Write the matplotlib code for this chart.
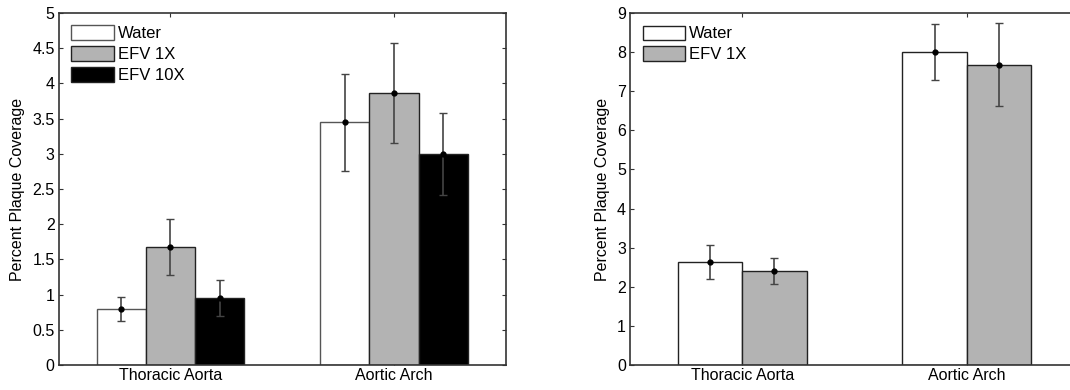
import numpy as np
import matplotlib
matplotlib.use("Agg")
import matplotlib.pyplot as plt

plt.rcParams['font.family'] = ['Liberation Sans', 'DejaVu Sans']

# data
sites = ["Thoracic Aorta", "Aortic Arch"]

# left panel: three groups
water_mean_a = [0.80, 3.45]
water_err_a = [0.17, 0.69]
efv1_mean_a = [1.68, 3.87]
efv1_err_a = [0.40, 0.71]
efv10_mean_a = [0.95, 3.00]
efv10_err_a = [0.26, 0.58]

# right panel: two groups
water_mean_b = [2.63, 8.00]
water_err_b = [0.43, 0.71]
efv1_mean_b = [2.41, 7.68]
efv1_err_b = [0.33, 1.06]

labels = ["Water", "EFV 1X", "EFV 10X"]
fills = ["white", "#b3b3b3", "black"]
edges = ["#555555", "#222222", "#222222"]
SPINE = "#333333"


def bar_panel(ax, means, errs, width, ymax, yticks, ticklabels, edge_list):
    n = len(means)
    x = np.arange(1, len(sites) + 1)
    offs = (np.arange(n) - (n - 1) / 2.0) * width
    for i in range(n):
        ax.bar(x + offs[i], means[i], width=width, color=fills[i],
               edgecolor=edge_list[i], linewidth=1.0, label=labels[i], zorder=2)
        ax.errorbar(x + offs[i], means[i], yerr=errs[i], fmt='o', ms=3.5,
                    mfc='black', mec='black', ecolor='#444444', elinewidth=1.2,
                    capsize=3, capthick=1.0, zorder=3)
    ax.set_xlim(0.5, 2.5)
    ax.set_ylim(0, ymax)
    ax.set_xticks(x)
    ax.set_xticklabels(sites, fontsize=11.5)
    ax.set_yticks(yticks)
    ax.set_yticklabels(ticklabels, fontsize=11.5)
    ax.tick_params(direction='in', length=3, width=0.8, color=SPINE,
                   top=True, right=True, pad=3)
    ax.tick_params(axis='x', length=3, pad=2)
    for s in ax.spines.values():
        s.set_color(SPINE)
        s.set_linewidth(1.2)
    ax.set_ylabel("Percent Plaque Coverage", fontsize=11.5, labelpad=5)
    ax.legend(loc='upper left', frameon=False, fontsize=12,
              handlelength=2.55, handleheight=0.95, labelspacing=0.3,
              handletextpad=0.25, borderaxespad=0.55, borderpad=0.2)


fig = plt.figure(figsize=(10.7, 3.9), dpi=100)
ax1 = fig.add_axes([58.7 / 1070, 25 / 390, 447 / 1070, 352 / 390])
# the right panel runs past the image edge in the original
ax2 = fig.add_axes([630 / 1070, 25 / 390, 449 / 1070, 352 / 390])

bar_panel(ax1, [water_mean_a, efv1_mean_a, efv10_mean_a],
          [water_err_a, efv1_err_a, efv10_err_a], 0.22, 5,
          np.arange(0, 5.01, 0.5),
          ["0", "0.5", "1", "1.5", "2", "2.5", "3", "3.5", "4", "4.5", "5"],
          edges)
bar_panel(ax2, [water_mean_b, efv1_mean_b],
          [water_err_b, efv1_err_b], 0.287, 9,
          np.arange(0, 10), [str(v) for v in range(10)],
          ["#222222", "#222222"])

fig.savefig("out.png", dpi=100)
